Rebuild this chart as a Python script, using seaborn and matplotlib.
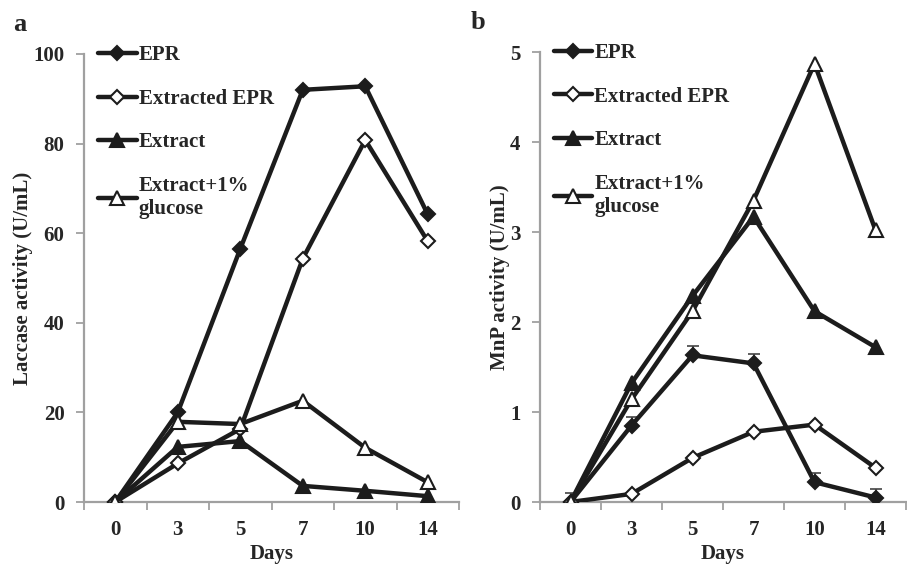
import numpy as np
import pandas as pd
import matplotlib
matplotlib.use("Agg")
import matplotlib.pyplot as plt
from matplotlib.ticker import FixedLocator
import seaborn as sns

days = ["0", "3", "5", "7", "10", "14"]
series_names = ["EPR", "Extracted EPR", "Extract", "Extract+1%\nglucose"]

# Panel a: Laccase activity (U/mL)
lac_epr = [0, 20.0, 56.5, 92.0, 92.8, 64.2]
lac_extracted = [0, 8.6, 16.3, 54.3, 80.8, 58.2]
lac_extract = [0, 12.3, 13.6, 3.6, 2.5, 1.3]
lac_glucose = [0, 17.9, 17.4, 22.6, 12.1, 4.4]

# Panel b: MnP activity (U/mL)
mnp_epr = [0, 0.85, 1.63, 1.54, 0.22, 0.05]
mnp_epr_err = [0.10, 0.10, 0.10, 0.10, 0.10, 0.10]
mnp_extracted = [0, 0.09, 0.49, 0.78, 0.86, 0.38]
mnp_extract = [0, 1.32, 2.29, 3.17, 2.12, 1.72]
mnp_glucose = [0, 1.14, 2.12, 3.35, 4.87, 3.02]

sns.set_theme(style="white")
plt.rcParams["font.family"] = ["Liberation Serif", "DejaVu Serif"]
plt.rcParams["font.weight"] = "bold"

LINE = "#1c1c1c"
SPINE = "#a0a0a0"
FS = 15

fig = plt.figure(figsize=(9.07, 5.66), dpi=100)
axA = fig.add_axes([84/907, 1-502/566, (459-84)/907, (502-54)/566])
axB = fig.add_axes([540/907, 1-502/566, (906-540)/907, (502-52)/566])

styles = [
    dict(marker="D", mfc=LINE, ms=7.5),
    dict(marker="D", mfc="white", ms=7.5),
    dict(marker="^", mfc=LINE, ms=10),
    dict(marker="^", mfc="white", ms=10),
]

def draw(ax, values, ymax, ystep, ylabel, letter, err=None):
    pos = np.arange(len(days))
    for name, vals, st in zip(series_names, values, styles):
        df = pd.DataFrame({"pos": pos, "val": vals})
        sns.lineplot(data=df, x="pos", y="val", ax=ax, color=LINE, lw=3.2,
                     marker=st["marker"], markersize=st["ms"],
                     markerfacecolor=st["mfc"], markeredgecolor=LINE,
                     markeredgewidth=1.5, label=name, zorder=3)
    if err is not None:
        vals, e = err
        ax.errorbar(pos, vals, yerr=[np.zeros(len(e)), e], fmt="none",
                    ecolor="#444444", elinewidth=1.2, capsize=4, capthick=1.2, zorder=2)
    ax.set_xlim(-0.5, len(days) - 0.5)
    ax.set_ylim(0, ymax)
    ax.set_xticks(pos)
    ax.set_xticklabels(days)
    ax.xaxis.set_minor_locator(FixedLocator(np.arange(-0.5, len(days), 1.0)))
    ax.set_yticks(np.arange(0, ymax + ystep/2, ystep))
    ax.tick_params(axis="x", which="major", length=0, pad=13, labelsize=FS)
    ax.tick_params(axis="x", which="minor", length=6, width=1.3, color=SPINE, direction="out", bottom=True)
    ax.tick_params(axis="y", length=6, width=1.3, color=SPINE, direction="out", left=True, pad=8, labelsize=FS)
    for lab in ax.get_xticklabels() + ax.get_yticklabels():
        lab.set_fontweight("bold")
    for s in ["top", "right"]:
        ax.spines[s].set_visible(False)
    for s in ["left", "bottom"]:
        ax.spines[s].set_color(SPINE)
        ax.spines[s].set_linewidth(1.6)
    ax.set_xlabel("Days", fontsize=FS, fontweight="bold", labelpad=3)
    ax.set_ylabel(ylabel, fontsize=FS, fontweight="bold", labelpad=0)
    ax.grid(False)
    leg = ax.legend(loc="upper left", bbox_to_anchor=(0.015, 1.038), frameon=False,
                    fontsize=FS, handlelength=1.85, handletextpad=0.1,
                    labelspacing=1.13, numpoints=1, borderaxespad=0.0)
    for t in leg.get_texts():
        t.set_fontweight("bold")
    ax.text(-0.19, 1.04, letter, transform=ax.transAxes, fontsize=19, fontweight="bold",
            va="bottom", ha="left")

draw(axA, [lac_epr, lac_extracted, lac_extract, lac_glucose], 100, 20,
     "Laccase activity (U/mL)", "a")
draw(axB, [mnp_epr, mnp_extracted, mnp_extract, mnp_glucose], 5, 1,
     "MnP activity (U/mL)", "b", err=(mnp_epr, mnp_epr_err))

fig.savefig("out.png", dpi=100)
